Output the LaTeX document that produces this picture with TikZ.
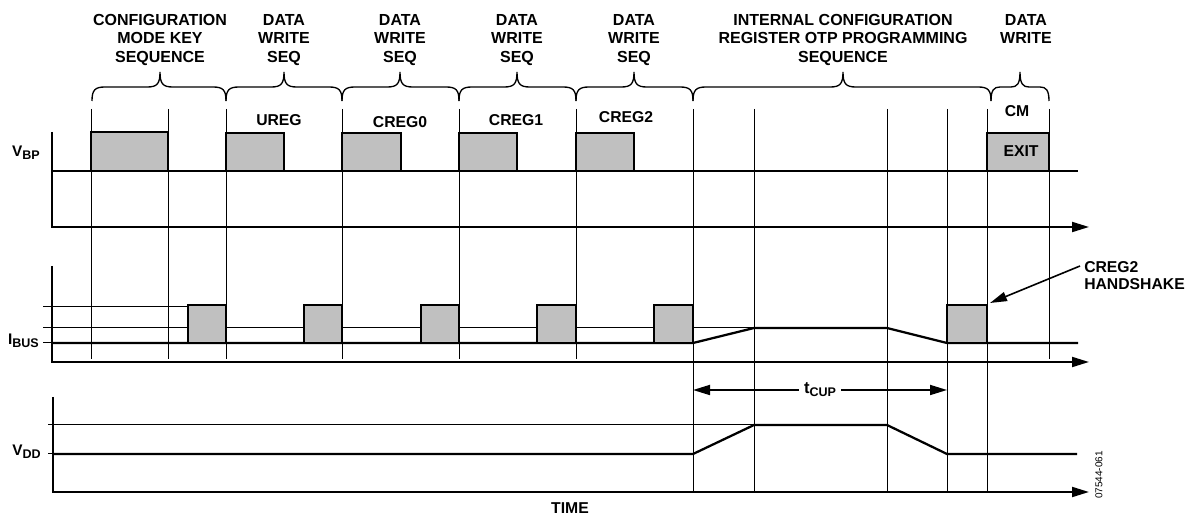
\documentclass[tikz,border=0pt]{standalone}
\usepackage{fontspec}
\setmainfont{Liberation Sans}
\usetikzlibrary{arrows.meta}
\definecolor{pulsegray}{RGB}{192,192,192}
\newcommand\mysub[1]{\raisebox{-2.2pt}{\fontsize{9.4pt}{10pt}\selectfont #1}}
\newcommand\tbrace[4]{%
  \draw[brc] (#1,101) .. controls (#1,90) and ({#1+3},87) .. ({#1+#4},87)
    -- ({#2-#4},87) .. controls ({#2-3},87) and (#2,84) .. (#2,72)
    .. controls (#2,84) and ({#2+3},87) .. ({#2+#4},87)
    -- ({#3-#4},87) .. controls ({#3-3},87) and (#3,90) .. (#3,101);}
\begin{document}
\begin{tikzpicture}[x=0.75pt,y=-0.75pt,
  thinln/.style={line width=0.75pt},
  sig/.style={line width=1.7pt, line join=miter},
  axisln/.style={line width=1.5pt, line join=miter, -{Triangle[length=12.75pt,width=7.5pt]}},
  pulse/.style={fill=pulsegray, draw=black, line width=2pt},
  brc/.style={line width=1pt},
  toplbl/.style={font=\bfseries\fontsize{12pt}{13.9pt}\selectfont, align=center, inner sep=0pt, anchor=north},
  smlbl/.style={font=\bfseries\fontsize{11.8pt}{13pt}\selectfont, inner sep=0pt, anchor=base},
  sidelbl/.style={font=\bfseries\fontsize{11.5pt}{13pt}\selectfont, inner sep=0pt, anchor=base east},
  tarr/.style={line width=1.3pt, {Triangle[length=12.75pt,width=7.5pt]}-{Triangle[length=12.75pt,width=7.5pt]}},
  harr/.style={line width=1.2pt, -{Triangle[length=12.75pt,width=7pt]}}
]
\useasboundingbox (0,0) rectangle (1186,516);

% ---- top labels ----
\node[toplbl] (cfg) at (160,14) {CONFIGURATION\\MODE KEY\\SEQUENCE};
\node[toplbl] (dw1) at (284,14) {DATA\\WRITE\\SEQ};
\node[toplbl] (dw2) at (400,14) {DATA\\WRITE\\SEQ};
\node[toplbl] (dw3) at (517,14) {DATA\\WRITE\\SEQ};
\node[toplbl] (dw4) at (634,14) {DATA\\WRITE\\SEQ};
\node[toplbl] (icr) at (843,14) {INTERNAL CONFIGURATION\\REGISTER OTP PROGRAMMING\\SEQUENCE};
\node[toplbl] (dw5) at (1026,14) {DATA\\WRITE};

% ---- braces ----
\tbrace{92}{160}{226}{13}
\tbrace{226}{284}{342}{13}
\tbrace{342}{400}{459}{13}
\tbrace{459}{517}{576}{13}
\tbrace{576}{634}{693}{13}
\tbrace{693}{843}{991}{13}
\tbrace{991}{1020}{1049}{9}

% ---- vertical grid lines ----
\foreach \x in {91,168,226,342,459,576,1049}
  \draw[thinln] (\x,109) -- (\x,359);
\foreach \x in {693,754,887,947,987}
  \draw[thinln] (\x,109) -- (\x,492);

% ---- V_BP ----
\draw[axisln] (52,132) -- (52,227) -- (1089,227);
\draw[sig] (52,171) -- (1078,171);
\draw[pulse] (91,132) rectangle (168,171);
\draw[pulse] (226,133) rectangle (284,171);
\draw[pulse] (342,133) rectangle (401,171);
\draw[pulse] (459,133) rectangle (517,171);
\draw[pulse] (576,133) rectangle (634,171);
\draw[pulse] (987,133) rectangle (1049,171);

% ---- I_BUS ----
\draw[axisln] (52,266) -- (52,362) -- (1089,362);
\draw[thinln] (43,307) -- (188,307);
\draw[thinln] (43,328) -- (754,328);
\draw[thinln] (43,343) -- (52,343);
\draw[sig] (52,343) -- (693,343) -- (754,328) -- (887,328) -- (947,343) -- (1078,343);
\draw[pulse] (188,305) rectangle (226,343);
\draw[pulse] (304,305) rectangle (342,343);
\draw[pulse] (421,305) rectangle (459,343);
\draw[pulse] (537,305) rectangle (576,343);
\draw[pulse] (654,305) rectangle (693,343);
\draw[pulse] (947,305) rectangle (987,343);
\coordinate (hsp) at (990,303);

% ---- V_DD ----
\draw[axisln] (53,397) -- (53,492) -- (1089,492);
\draw[thinln] (48,425) -- (754,425);
\draw[thinln] (48,454) -- (53,454);
\draw[sig] (53,454) -- (693,454) -- (754,425) -- (887,425) -- (947,454) -- (1077,454);

% ---- t_CUP ----
\coordinate (ta) at (693,390);
\coordinate (tb) at (947,390);
\draw[tarr] (ta) -- (tb);
\node[fill=white, inner sep=4pt, font=\bfseries\fontsize{12.5pt}{13pt}\selectfont] (tcup) at (820,390) {t\mysub{CUP}};

% ---- small labels ----
\node[smlbl] (ureg) at (279,126) {UREG};
\node[smlbl] (creg0) at (400,128) {CREG0};
\node[smlbl] (creg1) at (516,126) {CREG1};
\node[smlbl] (creg2) at (626,123) {CREG2};
\node[smlbl] (cm) at (1017,117) {CM};
\node[smlbl] (exit) at (1021,157) {EXIT};

% ---- side labels ----
\node[sidelbl] (vbp) at (40,157) {V\mysub{BP}};
\node[sidelbl] (ibus) at (39,345) {I\mysub{BUS}};
\node[sidelbl] (vdd) at (41,456) {V\mysub{DD}};

% ---- handshake ----
\node[font=\bfseries\fontsize{11.8pt}{12.75pt}\selectfont, align=left, inner sep=0pt, anchor=north west] (hs) at (1084,261) {CREG2\\HANDSHAKE};
\coordinate (hsa) at (1080,266);
\draw[harr] (hsa) -- (hsp);

% ---- time & figure id ----
\node[smlbl] (time) at (570,513) {TIME};
\node[rotate=90, inner sep=0pt, font=\fontsize{7.5pt}{8pt}\selectfont] (fid) at (1099,475) {07544-061};
\end{tikzpicture}
\end{document}
